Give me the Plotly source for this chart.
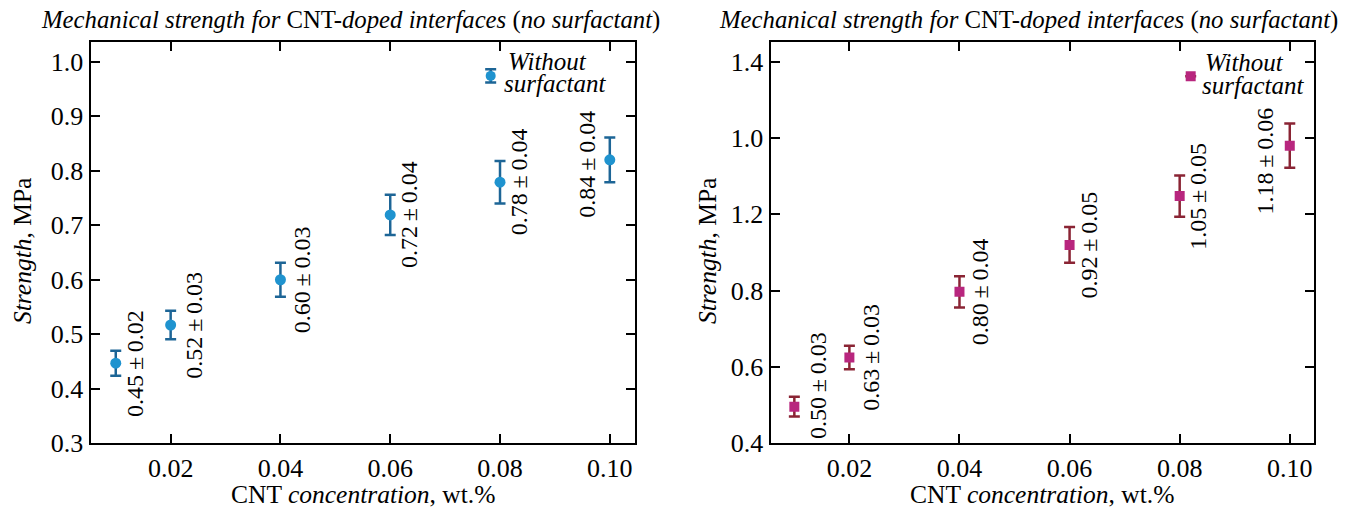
import plotly.graph_objects as go

# ---- data ----
conc = [0.01, 0.02, 0.04, 0.06, 0.08, 0.10]

left_strength = [0.447, 0.517, 0.600, 0.719, 0.779, 0.820]
left_err = [0.023, 0.026, 0.031, 0.037, 0.039, 0.041]
left_labels = ["0.45\u2009±\u20090.02", "0.52\u2009±\u20090.03", "0.60\u2009±\u20090.03",
               "0.72\u2009±\u20090.04", "0.78\u2009±\u20090.04", "0.84\u2009±\u20090.04"]
left_ref_x = [0.0783]
left_ref_y = [0.974]
left_ref_err = [0.012]

right_strength = [0.496, 0.625, 0.797, 0.920, 1.048, 1.180]
right_err = [0.026, 0.031, 0.041, 0.047, 0.054, 0.058]
right_labels = ["0.50\u2009±\u20090.03", "0.63\u2009±\u20090.03", "0.80\u2009±\u20090.04",
                "0.92\u2009±\u20090.05", "1.05\u2009±\u20090.05", "1.18\u2009±\u20090.06"]
right_ref_x = [0.082]
right_ref_y = [1.362]
right_ref_err = [0.0]

x_ticks = [0.02, 0.04, 0.06, 0.08, 0.10]
x_ticktext = ["0.02", "0.04", "0.06", "0.08", "0.10"]
left_yticks = [0.3, 0.4, 0.5, 0.6, 0.7, 0.8, 0.9, 1.0]
left_yticktext = ["0.3", "0.4", "0.5", "0.6", "0.7", "0.8", "0.9", "1.0"]
right_yticks = [0.4, 0.6, 0.8, 1.0, 1.2, 1.4]
right_yticktext = ["0.4", "0.6", "0.8", "1.2", "1.0", "1.4"]

title_text = "<i>Mechanical strength for</i> CNT-<i>doped interfaces</i> (<i>no surfactant</i>)"
ytitle = "<i>Strength</i>, MPa"
xtitle = "CNT <i>concentration</i>, wt.%"

# label pixel offsets (styling)
left_shift = [(19, 0), (23, 0), (21, 0), (19, 0), (19, 0), (-23, -4)]
right_shift = [(23, 21), (22, 0), (20, 0), (19, 0), (18, 0), (-25, -15)]

FONT = "Liberation Serif"
W, H = 1347, 510

BLUE = "#1f93cf"
BLUE_ERR = "#1d6596"
MAG = "#b8267e"
MAG_ERR = "#8a2434"

fig = go.Figure()

def add_series(xs, ys, errs, xa, ya, color, ecolor, symbol, size):
    fig.add_trace(go.Scatter(
        x=xs, y=ys, mode="markers", xaxis=xa, yaxis=ya,
        marker=dict(color=color, symbol=symbol, size=size, line=dict(width=0)),
        error_y=dict(type="data", array=errs, visible=True, color=ecolor,
                     thickness=2.5, width=5.5),
        showlegend=False, hoverinfo="skip"))

add_series(conc, left_strength, left_err, "x", "y", BLUE, BLUE_ERR, "circle", 11)
add_series(left_ref_x, left_ref_y, left_ref_err, "x", "y", BLUE, BLUE_ERR, "circle", 10)
add_series(conc, right_strength, right_err, "x2", "y2", MAG, MAG_ERR, "square", 10)
add_series(right_ref_x, right_ref_y, right_ref_err, "x2", "y2", MAG, MAG_ERR, "square", 10)

ann = []
for xs, ys, labs, shifts, xr, yr in [
    (conc, left_strength, left_labels, left_shift, "x", "y"),
    (conc, right_strength, right_labels, right_shift, "x2", "y2"),
]:
    for xv, yv, lab, (dx, dy) in zip(xs, ys, labs, shifts):
        ann.append(dict(x=xv, y=yv, xref=xr, yref=yr, text=lab, textangle=-90,
                        showarrow=False, xanchor="center", yanchor="middle",
                        xshift=dx, yshift=dy,
                        font=dict(family=FONT, size=24, color="black")))

for rx, ry, xr, yr, s1, s2 in [
    (left_ref_x[0], left_ref_y[0], "x", "y", (15, 14), (11, -8)),
    (right_ref_x[0], right_ref_y[0], "x2", "y2", (12, 14), (9, -9)),
]:
    ann.append(dict(x=rx, y=ry, xref=xr, yref=yr, text="<i>Without</i>", showarrow=False,
                    xanchor="left", yanchor="middle", xshift=s1[0], yshift=s1[1],
                    font=dict(family=FONT, size=25, color="black")))
    ann.append(dict(x=rx, y=ry, xref=xr, yref=yr, text="<i>surfactant</i>", showarrow=False,
                    xanchor="left", yanchor="middle", xshift=s2[0], yshift=s2[1],
                    font=dict(family=FONT, size=25, color="black")))

# titles and axis titles
for cx in [351 / W, 1028 / W]:
    ann.append(dict(x=cx, y=1 - 20 / H, xref="paper", yref="paper", text=title_text,
                    showarrow=False, xanchor="center", yanchor="middle",
                    font=dict(family=FONT, size=24.75, color="black")))
for cx in [363 / W, 1042 / W]:
    ann.append(dict(x=cx, y=1 - 494 / H, xref="paper", yref="paper", text=xtitle,
                    showarrow=False, xanchor="center", yanchor="middle",
                    font=dict(family=FONT, size=25.5, color="black")))
for cx in [22 / W, 707 / W]:
    ann.append(dict(x=cx, y=1 - 251 / H, xref="paper", yref="paper", text=ytitle,
                    textangle=-90, showarrow=False, xanchor="center", yanchor="middle",
                    font=dict(family=FONT, size=25.5, color="black")))

axis_common = dict(showline=True, linecolor="black", linewidth=2, mirror="ticks",
                   ticks="inside", ticklen=9, tickwidth=1.5, tickcolor="black",
                   showgrid=False, zeroline=False, automargin=False,
                   tickfont=dict(family=FONT, size=26, color="black"))

ybot = 1 - 443.3 / H
ytop = 1 - 42.3 / H

fig.update_layout(
    template=None,
    width=W, height=H, autosize=False,
    margin=dict(l=0, r=0, t=0, b=0, pad=0),
    paper_bgcolor="white", plot_bgcolor="white",
    xaxis=dict(domain=[90.5 / W, 634.5 / W], range=[0.0054, 0.1045], anchor="y",
               tickvals=x_ticks, ticktext=x_ticktext, **axis_common),
    yaxis=dict(domain=[ybot, ytop], range=[0.3, 1.0356], anchor="x",
               tickvals=left_yticks, ticktext=left_yticktext, **axis_common),
    xaxis2=dict(domain=[770.5 / W, 1314 / W], range=[0.00567, 0.1044], anchor="y2",
                tickvals=x_ticks, ticktext=x_ticktext, **axis_common),
    yaxis2=dict(domain=[ybot, ytop], range=[0.4, 1.451], anchor="x2",
                tickvals=right_yticks, ticktext=right_yticktext, **axis_common),
    annotations=ann,
)

fig.write_html("out.html", config={"displayModeBar": False},
               post_script="document.body.style.margin='0';document.body.style.overflow='hidden';")
